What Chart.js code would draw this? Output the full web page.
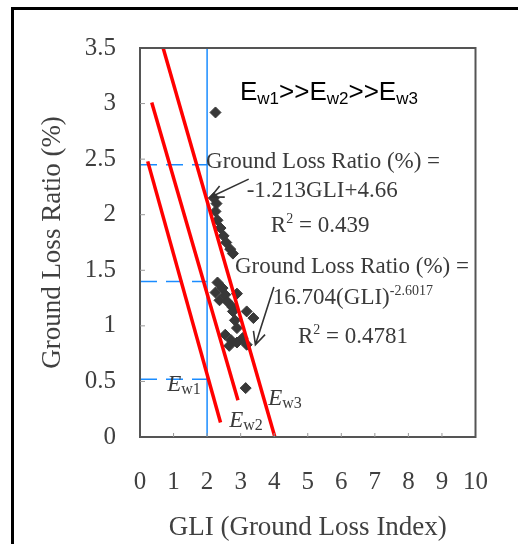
<!DOCTYPE html>
<html lang="en">
<head>
<meta charset="UTF-8">
<title>Ground Loss Ratio vs GLI</title>
<script src="https://cdn.jsdelivr.net/npm/chart.js"></script>
<style>
    html, body { margin: 0; padding: 0; background: #fff; overflow: hidden; }
    #frame { position: absolute; left: 11px; top: 7px; width: 600px; height: 600px; border: 3px solid #000; }
    #chart { position: absolute; left: 0; top: 0; }
</style>
</head>
<body>
<div id="frame"></div>
<canvas id="chart" width="518" height="544"></canvas>
<script>
    // measured points (GLI, ground loss ratio %)
    const gli = [2.25, 2.20, 2.28, 2.25, 2.31, 2.40, 2.49, 2.57, 2.69, 2.77,
                 2.31, 2.46, 2.25, 2.54, 2.37, 2.60, 2.75, 2.89, 3.18, 3.38,
                 2.77, 2.83, 2.89, 2.54, 2.72, 2.89, 3.06, 3.18, 2.66, 3.15];
    const ratio = [2.92, 2.15, 2.10, 2.03, 1.95, 1.88, 1.81, 1.75, 1.69, 1.65,
                   1.39, 1.34, 1.30, 1.28, 1.23, 1.22, 1.17, 1.29, 1.13, 1.07,
                   1.13, 1.05, 0.98, 0.92, 0.87, 0.85, 0.89, 0.83, 0.82, 0.44];

    // red boundary lines Ew1, Ew2, Ew3 (start / end)
    const ew1X = [0.23, 2.40], ew1Y = [2.48, 0.13];
    const ew2X = [0.35, 2.92], ew2Y = [3.01, 0.33];
    const ew3X = [0.69, 4.02], ew3Y = [3.50, 0.00];

    // blue guide lines
    const guideX = 2.0;
    const guideLevels = [2.45, 1.40, 0.52];

    const xMin = 0, xMax = 10, xStep = 1;
    const yMin = 0, yMax = 3.5, yStep = 0.5;

    const pts = (xs, ys) => xs.map((x, i) => ({x: x, y: ys[i]}));
    const red = '#ff0000', blue = '#1a8cff';
    const serif = '"Liberation Serif", "Times New Roman", serif';
    const ink = '#3a3a3a';

    function redLine(xs, ys) {
        return { type: 'line', data: pts(xs, ys), borderColor: red, borderWidth: 3.5,
                 pointRadius: 0, fill: false, showLine: true, order: 1 };
    }

    const datasets = [
        { type: 'scatter', data: pts(gli, ratio), pointStyle: 'rectRot', pointRadius: 5.5,
          backgroundColor: '#383838', borderColor: '#383838', order: 2 },
        redLine(ew1X, ew1Y), redLine(ew2X, ew2Y), redLine(ew3X, ew3Y),
        { type: 'line', data: [{x: guideX, y: yMin}, {x: guideX, y: yMax}], borderColor: blue,
          borderWidth: 1.5, pointRadius: 0, fill: false, order: 3 }
    ];
    guideLevels.forEach(v => {
        datasets.push({ type: 'line', data: [{x: xMin, y: v}, {x: guideX, y: v}], borderColor: blue,
                        borderWidth: 1.5, borderDash: [17, 9], pointRadius: 0, fill: false, order: 3 });
    });

    // rich text: parts = [text, size, opts]
    function drawRich(ctx, x, y, parts, family, color) {
        ctx.save();
        ctx.fillStyle = color;
        ctx.textBaseline = 'alphabetic';
        ctx.textAlign = 'left';
        parts.forEach(p => {
            const o = p[2] || {};
            ctx.font = (o.italic ? 'italic ' : '') + p[1] + 'px ' + (o.family || family);
            ctx.fillText(p[0], x, y + (o.dy || 0));
            x += ctx.measureText(p[0]).width;
        });
        ctx.restore();
    }

    function arrow(ctx, x1, y1, x2, y2) {
        const a = Math.atan2(y2 - y1, x2 - x1), h = 14;
        ctx.save();
        ctx.strokeStyle = '#333';
        ctx.lineWidth = 1.6;
        ctx.beginPath();
        ctx.moveTo(x1, y1); ctx.lineTo(x2, y2);
        ctx.moveTo(x2 - h * Math.cos(a - 0.45), y2 - h * Math.sin(a - 0.45));
        ctx.lineTo(x2, y2);
        ctx.lineTo(x2 - h * Math.cos(a + 0.45), y2 - h * Math.sin(a + 0.45));
        ctx.stroke();
        ctx.restore();
    }

    const decor = {
        id: 'decor',
        afterDatasetsDraw(chart) {
            const {ctx, chartArea: ca, scales: {x, y}} = chart;
            const px = v => x.getPixelForValue(v), py = v => y.getPixelForValue(v);

            // plot frame and inner ticks
            ctx.save();
            ctx.strokeStyle = '#555';
            ctx.lineWidth = 2;
            ctx.strokeRect(ca.left, ca.top, ca.right - ca.left, ca.bottom - ca.top);
            ctx.lineWidth = 1;
            ctx.strokeStyle = '#999';
            ctx.beginPath();
            for (let v = yStep; v < yMax; v += yStep) {
                ctx.moveTo(ca.left, py(v)); ctx.lineTo(ca.left + 5, py(v));
            }
            for (let v = xStep; v < xMax; v += xStep) {
                ctx.moveTo(px(v), ca.bottom); ctx.lineTo(px(v), ca.bottom - 4);
            }
            ctx.stroke();
            ctx.restore();

            // regression notes
            drawRich(ctx, px(1.97), py(2.42), [['Ground Loss Ratio (%) =', 23]], serif, ink);
            drawRich(ctx, px(3.18), py(2.16), [['-1.213GLI+4.66', 23]], serif, ink);
            drawRich(ctx, px(3.90), py(1.84), [['R', 23], ['2', 14, {dy: -9}], [' = 0.439', 23]], serif, ink);
            drawRich(ctx, px(2.83), py(1.48), [['Ground Loss Ratio (%) =', 23]], serif, ink);
            drawRich(ctx, px(3.96), py(1.20), [['16.704(GLI)', 23], ['-2.6017', 14, {dy: -9}]], serif, ink);
            drawRich(ctx, px(4.71), py(0.85), [['R', 23], ['2', 14, {dy: -9}], [' = 0.4781', 23]], serif, ink);
            arrow(ctx, px(3.24), py(2.32), px(2.11), py(2.16));
            arrow(ctx, px(3.99), py(1.35), px(3.44), py(0.83));

            // line labels
            drawRich(ctx, px(0.81), py(0.41), [['E', 23, {italic: true}], ['w1', 16, {dy: 3}]], serif, ink);
            drawRich(ctx, px(2.66), py(0.09), [['E', 23, {italic: true}], ['w2', 16, {dy: 3}]], serif, ink);
            drawRich(ctx, px(3.82), py(0.29), [['E', 23, {italic: true}], ['w3', 16, {dy: 3}]], serif, ink);

            // ordering note
            const sans = '"Liberation Sans", Arial, sans-serif';
            drawRich(ctx, px(2.98), py(3.03), [
                ['E', 26], ['w1', 17, {dy: 4}], ['>>E', 26], ['w2', 17, {dy: 4}], ['>>E', 26], ['w3', 17, {dy: 4}]
            ], sans, '#000');
        }
    };

    new Chart(document.getElementById('chart').getContext('2d'), {
        type: 'scatter',
        data: { datasets: datasets },
        options: {
            responsive: false,
            animation: false,
            layout: { padding: { left: 0, right: 32, top: 48, bottom: 0 } },
            plugins: { legend: { display: false }, tooltip: { enabled: false } },
            scales: {
                x: {
                    type: 'linear', min: xMin, max: xMax,
                    grid: { display: false, drawTicks: false },
                    border: { display: false },
                    ticks: { stepSize: xStep, padding: 30, color: '#404040',
                             font: { family: serif, size: 25 }, maxRotation: 0 },
                    title: { display: true, text: 'GLI (Ground Loss Index)', color: '#404040',
                             font: { family: serif, size: 27, lineHeight: 1.2 }, padding: { top: 0, bottom: 0 } },
                    afterFit(s) { s.height = 107; }
                },
                y: {
                    type: 'linear', min: yMin, max: yMax,
                    grid: { display: false, drawTicks: false },
                    border: { display: false },
                    ticks: { stepSize: yStep, padding: 24, color: '#404040',
                             font: { family: serif, size: 25 },
                             callback: v => String(v) },
                    title: { display: true, text: 'Ground Loss Ratio (%)', color: '#404040',
                             font: { family: serif, size: 27, lineHeight: 1.2 }, padding: { top: 37, bottom: 0 } },
                    afterFit(s) { s.width = 140; }
                }
            }
        },
        plugins: [decor]
    });
</script>
</body>
</html>
